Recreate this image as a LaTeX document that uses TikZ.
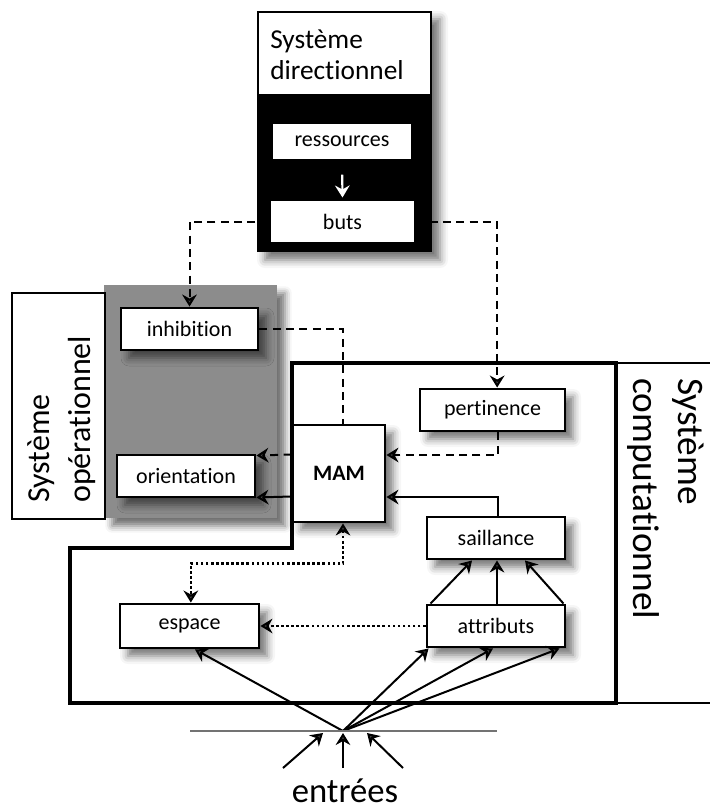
\documentclass[tikz,border=0pt]{standalone}
\usepackage{fontspec}
\setmainfont{Carlito}[Ligatures={NoCommon,NoContextual}]
\usetikzlibrary{arrows.meta,calc,shadows.blur}
\begin{document}
\begin{tikzpicture}[x=0.75pt,y=-0.75pt,
  box/.style={draw=black, line width=2.2pt, fill=white, inner sep=0pt,
    font=\fontsize{16.5}{18}\selectfont, minimum width=103.5pt, minimum height=31.5pt,
    blur shadow={shadow xshift=6pt, shadow yshift=-6pt, shadow blur radius=6pt, shadow opacity=55}},
  conn/.style={line width=1.5pt, -{Stealth[length=9pt,width=11pt,inset=3pt]}},
  dsh/.style={dash pattern=on 6pt off 4pt},
  dtt/.style={line width=1.9pt, dash pattern=on 1.9pt off 1.9pt},
  ttl/.style={font=\fontsize{20.5}{23}\selectfont, inner sep=0pt},
  opl/.style={font=\fontsize{24}{27}\selectfont, inner sep=0pt, rotate=90, anchor=base west},
  cpl/.style={font=\fontsize{28}{30}\selectfont, inner sep=0pt, rotate=-90, anchor=base west},
]
\useasboundingbox (0,0) rectangle (710,811);

% ---- Systeme directionnel
\path[fill=black, blur shadow={shadow xshift=6pt, shadow yshift=-6pt, shadow blur radius=6pt, shadow opacity=55}] (257,11) rectangle (432,252);
\draw[fill=white, line width=1.5pt] (258,12) rectangle (431,95);
\node[ttl, anchor=base west] (d1) at (270,48) {Système};
\node[ttl, anchor=base west] (d2) at (270,79) {directionnel};

% ---- Systeme operationnel
\path[fill={rgb,255:red,140;green,140;blue,140}, blur shadow={shadow xshift=6pt, shadow yshift=-6pt, shadow blur radius=5pt, shadow opacity=55}] (104,285) rectangle (277,518);
\draw[fill=white, line width=1.5pt] (12,293) rectangle (105,519);
\node[opl] (o1) at (50,503) {Système};
\node[opl] (o2) at (90,503) {opérationnel};

% ---- Systeme computationnel
\draw[line width=3pt, line join=miter] (292,363) -- (616,363) -- (616,703) -- (70,703) -- (70,548) -- (292,548) -- cycle;
\draw[line width=1.3pt] (616,363) -- (710,363);
\draw[line width=1.3pt] (616,703) -- (710,703);
\node[cpl] (c1) at (678,378) {Système};
\node[cpl] (c2) at (633,378) {computationnel};

% ---- boxes
\node[box, line width=1.8pt, minimum width=105pt, minimum height=27.75pt, blur shadow={shadow opacity=0}] (res) at (342,141.5) {ressources};
\node[box, line width=1.8pt, minimum width=108.75pt, minimum height=32.25pt, blur shadow={shadow opacity=0}] (buts) at (342.5,221.5) {buts};
\node[box, minimum width=102.75pt] (inhib) at (189.5,329) {inhibition};
\node[box] (orient) at (186,476) {orientation};
\node[box, minimum width=69pt, minimum height=72.75pt, font=\fontsize{16.5}{18}\selectfont\bfseries] (mam) at (339,473.5) {MAM};
\node[box, minimum width=108.75pt] (pert) at (492.5,410) {pertinence};
\node[box] (sail) at (496,538) {saillance};
\node[box] (attr) at (496,626) {attributs};
\node[box, minimum width=104.25pt, minimum height=33pt] (esp) at (189.5,626) {espace};

% ---- connectors
\draw[conn, white, line width=1.6pt, shorten <=10pt, shorten >=1pt] (res.south) -- (buts.north);
\draw[conn, dsh] (buts.west) -| (inhib.north);
\draw[conn, dsh] (buts.east) -| ([xshift=3.5pt]pert.north);
\draw[conn, dsh, -] (inhib.east) -| ([xshift=3pt]mam.north);
\draw[conn, dsh] ($(mam.west)+(0,-19)$) -- ($(orient.north east)+(0,2)$);
\draw[conn] ($(mam.west)+(0,23)$) -- ($(orient.south east)+(0,-1)$);
\draw[conn, dsh] ([xshift=4pt]pert.south) |- ($(mam.east)+(0,-18.5)$);
\draw[conn] ([xshift=1.5pt]sail.north) |- ($(mam.east)+(0,23.5)$);
\draw[conn, dtt, {Stealth[length=9pt,width=11pt,inset=3pt]}-{Stealth[length=9pt,width=11pt,inset=3pt]}] ([xshift=3pt]mam.south) -- ++(0,40) -| ([xshift=1pt]esp.north);
\draw[conn, dtt] (attr.west) -- (esp.east);
\draw[conn] ($(attr.north west)+(5,0)$) -- ($(sail.south)+(-24,0)$);
\draw[conn] ($(attr.north)+(1,0)$) -- ($(sail.south)+(1,0)$);
\draw[conn] ($(attr.north east)+(-3,0)$) -- ($(sail.south)+(29,0)$);

\coordinate (conv) at (343,731);
\draw[conn] (conv) -- ($(esp.south)+(5.5,0)$);
\draw[conn] (conv) -- ($(attr.south west)+(3,0)$);
\draw[conn] (conv) -- ($(attr.south)+(-3,0)$);
\draw[conn] (conv) -- ($(attr.south east)+(-7,0)$);

\coordinate (h1) at (190,731);
\coordinate (h2) at (497,731);
\draw[line width=2pt, black!55] (h1) -- (h2);

\coordinate (i1) at (283,768);
\coordinate (i2) at (343,768);
\coordinate (i3) at (403,768);
\coordinate (t1) at (323,733);
\coordinate (t2) at (343,733);
\coordinate (t3) at (367,733);
\draw[conn] (i1) -- (t1);
\draw[conn] (i2) -- (t2);
\draw[conn] (i3) -- (t3);

\node[font=\fontsize{26}{30}\selectfont, inner sep=0pt, anchor=base] (ent) at (345,802) {entrées};
\end{tikzpicture}
\end{document}
